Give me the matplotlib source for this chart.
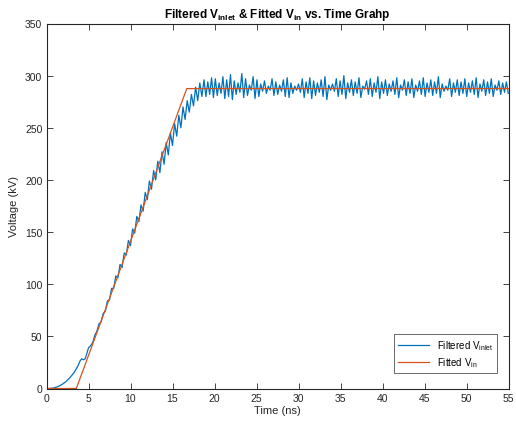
import numpy as np
import matplotlib
matplotlib.use("Agg")
import matplotlib.pyplot as plt

plt.rcParams["font.family"] = ["Liberation Sans", "DejaVu Sans"]
plt.rcParams["mathtext.fontset"] = "custom"
plt.rcParams["mathtext.rm"] = "Liberation Sans"
plt.rcParams["mathtext.it"] = "Liberation Sans:italic"
plt.rcParams["mathtext.bf"] = "Liberation Sans:bold"

# Filtered inlet voltage: smooth onset
onset_t = [0.3, 0.8, 1.3, 1.8, 2.3, 2.8, 3.3, 3.7, 4.0, 4.2, 4.4, 4.6, 4.8, 5.0, 5.25]
onset_v = [0.0, 0.4, 1.6, 3.6, 6.5, 10.5, 15.5, 21.0, 26.5, 28.5, 27.5, 28.5, 33.5, 39.0, 41.0]

# Filtered inlet voltage: oscillating rise, sampled every 0.25 ns from 5.5 ns
rise_start, rise_step = 5.5, 0.25
rise_v = [
    44, 51, 55, 62, 64, 72, 74, 84, 85, 96, 96, 108, 106, 119, 116, 130, 128, 142,
    137, 153, 149, 165, 160, 176, 170, 188, 181, 199, 191, 209, 200, 218, 207, 227,
    215, 236, 224, 245, 233, 254, 242, 262, 250, 270, 258, 276, 265, 282, 271, 289,
    276, 293, 280,
]

# Filtered inlet voltage: plateau, sampled every 0.225 ns from 18.75 ns
flat_start, flat_step = 18.75, 0.225
flat_v = [
    296, 280, 294, 282, 298, 279, 297, 281, 293, 283, 299, 278, 296, 280, 301, 277, 295, 282, 293, 284,
    302, 279, 297, 281, 291, 286, 299, 278, 296, 280, 292, 285, 295, 283, 290, 286, 297, 281, 294, 282,
    291, 285, 296, 280, 298, 279, 293, 283, 290, 286, 292, 284, 297, 279, 294, 283, 298, 278, 295, 281,
    293, 284, 296, 280, 299, 277, 291, 286, 292, 285, 297, 280, 295, 282, 300, 278, 293, 284, 296, 281,
    294, 283, 298, 279, 290, 287, 295, 282, 297, 280, 293, 284, 299, 278, 294, 283, 296, 281, 292, 285,
    295, 282, 298, 279, 291, 286, 296, 281, 294, 283, 297, 279, 291, 285, 295, 282, 298, 280, 293, 284,
    296, 281, 294, 283, 299, 279, 292, 285, 290, 286, 297, 280, 293, 284, 296, 281, 294, 283, 297, 280,
    293, 284, 295, 282, 298, 279, 292, 285, 296, 281, 294, 283, 297, 280, 291, 286, 295, 282, 293, 284,
    294, 283,
]

# Fitted input voltage (piecewise linear ramp)
fit_t = [0.0, 3.55, 16.7, 55.0]
fit_v = [0.0, 0.0, 287.6, 287.6]

rise_t = rise_start + rise_step * np.arange(len(rise_v))
flat_t = flat_start + flat_step * np.arange(len(flat_v))
filt_t = np.concatenate([onset_t, rise_t, flat_t])
filt_v = np.concatenate([onset_v, rise_v, flat_v])

fig = plt.figure(figsize=(5.16, 4.27), dpi=100)
ax = fig.add_axes([46.5 / 516, (427 - 389.5) / 427, 462 / 516, 365 / 427])

ax.plot(filt_t, filt_v, color="#0072BD", lw=0.9, label=r"Filtered V$_{\mathrm{inlet}}$")
ax.plot(fit_t, fit_v, color="#D95319", lw=0.9, label=r"Fitted V$_{\mathrm{in}}$")

ax.set_xlim(0, 55)
ax.set_ylim(0, 350)
ax.set_xticks(np.arange(0, 56, 5))
ax.set_yticks(np.arange(0, 351, 50))

axis_col = "#262626"
for s in ax.spines.values():
    s.set_color(axis_col)
    s.set_linewidth(0.8)
ax.tick_params(direction="in", length=4, width=0.6, top=True, right=True,
               colors=axis_col, labelsize=7.5, pad=3)

ax.set_xlabel("Time (ns)", fontsize=8, color=axis_col, labelpad=2)
ax.set_ylabel("Voltage (kV)", fontsize=8, color=axis_col, labelpad=4)
ax.set_title(r"Filtered V$_{\mathbf{inlet}}$ & Fitted V$_{\mathbf{in}}$ vs. Time Grahp",
             fontsize=8.5, fontweight="bold", color="black", pad=5)

leg = ax.legend(loc="lower right", fontsize=7, frameon=True, fancybox=False,
                edgecolor=axis_col, handlelength=3.2, borderpad=0.4,
                labelspacing=0.3, bbox_to_anchor=(0.985, 0.03))
leg.get_frame().set_linewidth(0.6)

fig.savefig("out.png", dpi=100)
